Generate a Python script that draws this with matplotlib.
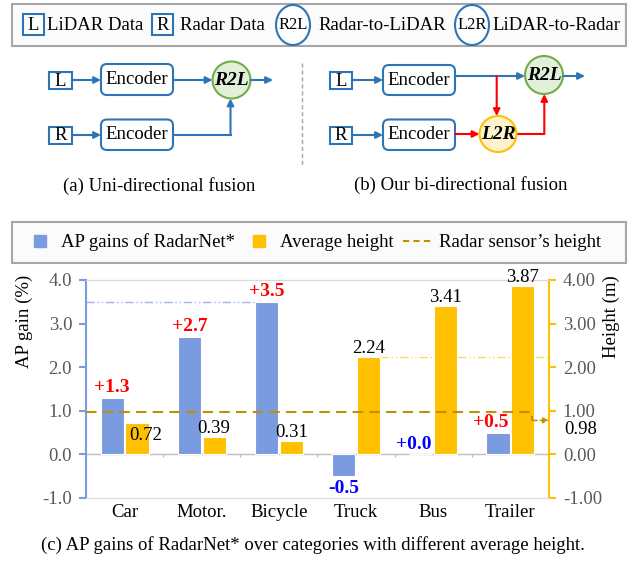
import numpy as np
import matplotlib.pyplot as plt
from matplotlib.patches import FancyBboxPatch, Rectangle, Ellipse
from matplotlib.lines import Line2D

plt.rcParams['font.family'] = ['Liberation Serif', 'DejaVu Serif']
plt.rcParams['font.size'] = 13.5

# per-category results
categories = ['Car', 'Motor.', 'Bicycle', 'Truck', 'Bus', 'Trailer']
ap_gain = [1.3, 2.7, 3.5, -0.5, 0.0, 0.5]
avg_height = [0.72, 0.39, 0.31, 2.24, 3.41, 3.87]
radar_height = 0.98

LINE_BLUE = '#2E75B6'
RED = '#FF0000'
BAR_BLUE = '#7B9BE0'
BAR_YELLOW = '#FFC000'
DARK_GOLD = '#BF9000'
GRAY_TXT = '#595959'

fig = plt.figure(figsize=(6.29, 5.61), dpi=100)

# pixel-space canvas for the block diagrams, frames and captions
dg = fig.add_axes([0, 0, 1, 1])
dg.set_xlim(0, 629)
dg.set_ylim(561, 0)
dg.axis('off')


def arrow(p0, p1, color=LINE_BLUE):
    dg.annotate('', xy=p1, xytext=p0,
                arrowprops=dict(arrowstyle='-|>', color=color, lw=1.5,
                                mutation_scale=10, shrinkA=0, shrinkB=0))


def square(x0, y0, w, h, label, fs=13.5):
    dg.add_patch(Rectangle((x0, y0), w, h, fc='white', ec=LINE_BLUE, lw=1.5))
    dg.text(x0 + w / 2, y0 + h / 2 + 0.5, label, ha='center', va='center', fontsize=fs)


def encoder(x0, y0, x1, y1):
    dg.add_patch(FancyBboxPatch((x0, y0), x1 - x0, y1 - y0,
                                boxstyle='round,pad=0,rounding_size=6',
                                fc='white', ec=LINE_BLUE, lw=1.5))
    dg.text((x0 + x1) / 2, (y0 + y1) / 2, 'Encoder', ha='center', va='center')


def node(cx, cy, w, h, label, fc, ec, fs=14, bold=True):
    dg.add_patch(Ellipse((cx, cy), w, h, fc=fc, ec=ec, lw=1.5, zorder=3))
    dg.text(cx, cy, label, ha='center', va='center', fontsize=fs, zorder=4,
            fontweight='bold' if bold else 'normal',
            fontstyle='italic' if bold else 'normal')


# ---- symbol legend at the top
dg.add_patch(Rectangle((12, 4), 614, 42, fc='#FBFBFB', ec='#A6A6A6', lw=1.5))
square(23, 14, 21, 21, 'L')
dg.text(47, 25, 'LiDAR Data', va='center')
square(152, 14, 21, 21, 'R')
dg.text(180, 25, 'Radar Data', va='center')
node(293, 25, 34, 40, 'R2L', 'white', LINE_BLUE, fs=12, bold=False)
dg.text(318, 25, 'Radar-to-LiDAR', va='center')
node(472, 25, 34, 40, 'L2R', 'white', LINE_BLUE, fs=12, bold=False)
dg.text(492, 25, 'LiDAR-to-Radar', va='center')

# ---- (a) uni-directional fusion
square(49, 72, 23, 17, 'L')
square(49, 126.5, 23, 17, 'R')
encoder(101, 64, 173, 95)
encoder(101, 119.5, 173, 150)
node(231.5, 80, 38, 37, 'R2L', '#E2F0D9', '#70AD47')
arrow((72, 80), (101, 80))
arrow((72, 135), (101, 135))
arrow((173, 80), (212.5, 80))
arrow((250.5, 80), (273, 80))
dg.plot([173, 230.5], [135, 135], color=LINE_BLUE, lw=1.5)
arrow((230.5, 135), (230.5, 98.5))
dg.text(159, 186, '(a) Uni-directional fusion', ha='center', va='center')

dg.plot([301.5, 301.5], [63, 165], color='#A6A6A6', lw=1, ls=(0, (3, 2)))

# ---- (b) bi-directional fusion
square(330, 72, 22, 17, 'L')
square(330, 126.5, 22, 17, 'R')
encoder(383, 65, 455, 95)
encoder(383, 119.5, 455, 150)
node(544, 75, 38, 38, 'R2L', '#E2F0D9', '#70AD47')
node(498, 134, 37, 36, 'L2R', '#FFF2CC', BAR_YELLOW)
arrow((352, 80), (383, 80))
arrow((352, 135), (383, 135))
arrow((455, 76), (525, 76))
arrow((563, 76), (585, 76))
arrow((496.7, 76), (496.7, 116), RED)
arrow((455, 134), (479.5, 134), RED)
dg.plot([516.5, 544.3], [134, 134], color=RED, lw=1.5)
arrow((544.3, 134), (544.3, 94), RED)
dg.text(461, 185, '(b) Our bi-directional fusion', ha='center', va='center')

# ---- (c) bar chart
dg.add_patch(Rectangle((12, 222), 614, 41, fc='#FBFBFB', ec='#A6A6A6', lw=1.5))

ax = fig.add_axes([86 / 629, 63 / 561, 463 / 629, 218 / 561])
ax2 = ax.twinx()
x = np.arange(len(categories))
w, off = 0.30, 0.16

ax.bar(x - off, ap_gain, w, color=BAR_BLUE, edgecolor='white', lw=0.8, zorder=3)
ax2.bar(x + off, avg_height, w, color=BAR_YELLOW, edgecolor='white', lw=0.8, zorder=3)

# gain labels live on the twin axes so they sit above the yellow bars
for xi, g, h in zip(x, ap_gain, avg_height):
    col = RED if g > 0 else 'blue'
    dx = -5 if (g >= 0 and h > g) else 0
    ax2.annotate(f'{g:+.1f}', (xi - off, g), xytext=(dx, 1 if g >= 0 else -3),
                 textcoords='offset points', ha='center',
                 va='bottom' if g >= 0 else 'top',
                 color=col, fontweight='bold', fontsize=14, zorder=6)

for i, (xi, h) in enumerate(zip(x, avg_height)):
    if i == 0:
        # pushed aside so it clears the sensor line
        ax2.annotate(f'{h:.2f}', (xi + off, h), xytext=(6, -3),
                     textcoords='offset points', ha='center', va='top', zorder=6)
    else:
        ax2.annotate(f'{h:.2f}', (xi + off, h), xytext=(0, 0),
                     textcoords='offset points', ha='center', va='bottom', zorder=6)

# reference lines to the axes
ax.plot([-0.5, x[2] - off - w / 2], [ap_gain[2]] * 2, color='#9DB5EC', lw=1,
        ls=(0, (6, 2, 1, 2, 1, 2)), zorder=2)
ax2.plot([x[3] + off + w / 2, 5.5], [avg_height[3]] * 2, color='#FFD966', lw=1,
         ls=(0, (6, 2, 1, 2, 1, 2)), zorder=2)

# radar sensor height
bend = x[-1] + 0.28
ax2.plot([-0.5, bend, bend], [radar_height, radar_height, radar_height - 0.2],
         color=DARK_GOLD, lw=1.5, ls=(0, (5, 3)), zorder=4)
ax2.annotate('', xy=(5.5, radar_height - 0.2), xytext=(bend, radar_height - 0.2),
             arrowprops=dict(arrowstyle='-|>', color=DARK_GOLD, lw=1.2,
                             ls=(0, (3, 2)), mutation_scale=8, shrinkA=0, shrinkB=0),
             zorder=4)
ax2.text(1.032, radar_height - 0.42, f'{radar_height:.2f}',
         transform=ax2.get_yaxis_transform(), ha='left', va='center')

ax.set_xlim(-0.5, 5.5)
ax.set_ylim(-1, 4)
ax2.set_ylim(-1, 4)

ax.axhline(0, color='#BFBFBF', lw=1, zorder=1)
ax.vlines(x[:-1] + 0.5, -0.07, 0, color='#BFBFBF', lw=1, zorder=1)

ax.set_xticks(x, categories)
ax.tick_params(axis='x', length=0, pad=4, labelsize=13.5)
ax.set_yticks(np.arange(-1, 5))
ax.set_yticklabels([f'{v:.1f}' for v in np.arange(-1, 5)])
ax.tick_params(axis='y', color=BAR_BLUE, labelcolor=GRAY_TXT, length=5, width=1.5,
               pad=5, labelsize=13.5)
ax2.set_yticks(np.arange(-1, 5))
ax2.set_yticklabels([f'{v:.2f}' for v in np.arange(-1, 5)])
ax2.tick_params(axis='y', color=BAR_YELLOW, labelcolor=GRAY_TXT, length=5, width=1.5,
                pad=5, labelsize=13.5)

for a in (ax, ax2):
    a.spines['top'].set_color('#D9D9D9')
    a.spines['bottom'].set_color('#D9D9D9')
ax.spines['left'].set_color(BAR_BLUE)
ax.spines['left'].set_linewidth(1.5)
ax.spines['right'].set_visible(False)
ax2.spines['left'].set_visible(False)
ax2.spines['right'].set_color(BAR_YELLOW)
ax2.spines['right'].set_linewidth(1.5)
ax2.patch.set_visible(False)

ax.set_ylabel('AP gain (%)')
ax.yaxis.set_label_coords(-0.114, 0.81)
ax2.set_ylabel('Height (m)')
ax2.yaxis.set_label_coords(1.117, 0.83)

handles = [
    Line2D([], [], marker='s', ls='none', color=BAR_BLUE, markersize=8),
    Line2D([], [], marker='s', ls='none', color=BAR_YELLOW, markersize=8),
    Line2D([], [], ls=(0, (3, 2)), color=DARK_GOLD, lw=1.5),
]
fig.legend(handles, ['AP gains of RadarNet*', 'Average height', 'Radar sensor\u2019s height'],
           loc='center', bbox_to_anchor=(313 / 629, 1 - 242.5 / 561), ncol=3,
           frameon=False, handlelength=1.6, handletextpad=0.3, columnspacing=0.5,
           fontsize=13.5)

dg.text(313, 545, '(c) AP gains of RadarNet* over categories with different average height.',
        ha='center', va='center')

fig.savefig('out.png', dpi=100)
